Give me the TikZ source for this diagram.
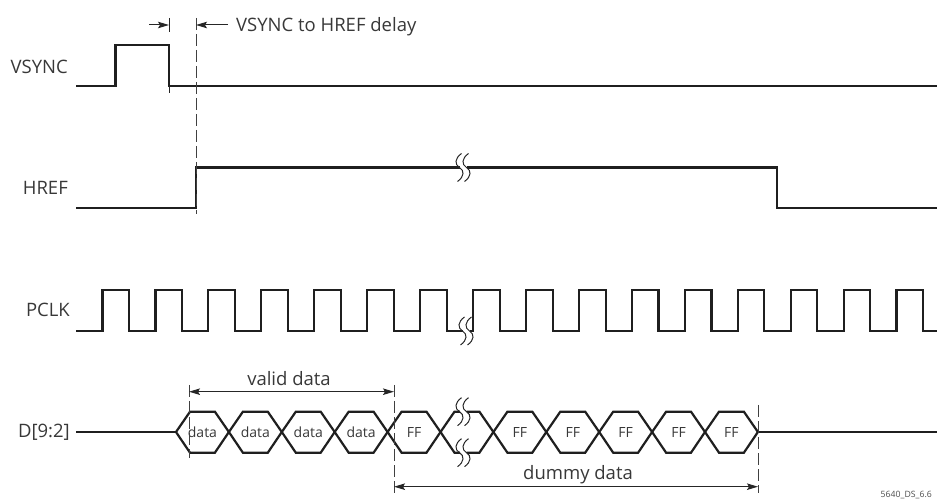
\documentclass[tikz,border=0pt]{standalone}
\usepackage{fontspec}
\setmainfont{Open Sans}
\usetikzlibrary{arrows.meta}
\begin{document}
\begin{tikzpicture}[x=1pt,y=-1pt,
  sig/.style={line width=2.2pt, draw=black!88, line join=miter},
  dim/.style={line width=1pt, draw=black!85},
  ext/.style={line width=1pt, draw=black!75, dash pattern=on 12pt off 4pt},
  lbl/.style={font=\fontsize{18.5}{21}\selectfont, text=black!78, inner sep=0pt},
  cell/.style={font=\fontsize{14}{16}\selectfont, text=black!78, inner sep=0pt, anchor=base},
  tinytext/.style={font=\fontsize{8.7}{10}\selectfont, text=black!70, inner sep=0pt},
  tipr/.style={-{Stealth[length=11pt,width=6.5pt,inset=2pt]}},
  tipb/.style={{Stealth[length=11pt,width=6.5pt,inset=2pt]}-{Stealth[length=11pt,width=6.5pt,inset=2pt]}},
  brk/.pic={
    \fill[white] (-3.5,-2.5) rectangle (3.5,2.5);
    \draw[line width=1pt, black!85] (-1.5,-14) .. controls (-8.5,-9) and (-8.5,-3) .. (-3.5,0) .. controls (1.5,3) and (1.5,9) .. (-5.5,14);
    \draw[line width=1pt, black!85] (5.5,-14) .. controls (-1.5,-9) and (-1.5,-3) .. (3.5,0) .. controls (8.5,3) and (8.5,9) .. (1.5,14);
  }
]
\useasboundingbox (0,0) rectangle (937,502);

% ---------- labels ----------
\node[lbl, anchor=base east] (lv) at (68,74) {VSYNC};
\node[lbl, anchor=base east] (lh) at (68,195) {HREF};
\node[lbl, anchor=base east] (lp) at (70,317) {PCLK};
\node[lbl, anchor=base east] (ld) at (70,437.5) {D[9:2]};

% ---------- VSYNC ----------
\draw[sig] (76,86) -- (115.5,86) -- (115.5,45) -- (169,45) -- (169,86) -- (937,86);
\draw[dim] (169,18) -- (169,32);
\draw[dim] (169,86) -- (169,93);

% ---------- HREF ----------
\draw[sig] (76,208.3) -- (196,208.3) -- (196,167.5) -- (777.3,167.5) -- (777.3,208.3) -- (937,208.3);
\pic at (463,167.5) {brk};

% ---------- delay dimension ----------
\draw[ext] (196,18) -- (196,214);
\coordinate (vfs) at (149,25);
\coordinate (vfall) at (169,25);
\coordinate (hrs) at (228,25);
\coordinate (hrise) at (196,25);
\draw[dim,tipr] (vfs) -- (vfall);
\draw[dim,tipr] (hrs) -- (hrise);
\node[lbl, anchor=base west] (delay) at (236,32) {VSYNC to HREF delay};

% ---------- PCLK ----------
\draw[sig] (76,331)
  foreach \i in {0,...,6} { -- ({102.5+52.9*\i},331) -- ({102.5+52.9*\i},290) -- ({129.2+52.9*\i},290) -- ({129.2+52.9*\i},331) }
  foreach \i in {0,...,8} { -- ({473.3+52.9*\i},331) -- ({473.3+52.9*\i},290) -- ({499.8+52.9*\i},290) -- ({499.8+52.9*\i},331) }
  -- (937,331);
\pic at (466,331) {brk};

% ---------- D[9:2] ----------
\draw[sig] (76,432) -- (176,432);
\draw[sig] (757.9,432) -- (937,432);
\foreach \k in {0,...,10} {
  \pgfmathsetmacro{\a}{176+52.9*\k}
  \pgfmathsetmacro{\b}{176+52.9*(\k+1)}
  \draw[sig] (\a,432) -- ({\a+14},411.7) -- ({\b-14},411.7) -- (\b,432) -- ({\b-14},452.7) -- ({\a+14},452.7) -- cycle;
}
\pic at (463,411.7) {brk};
\pic at (463,452.7) {brk};
\foreach \k/\t [count=\n] in {0/data,1/data,2/data,3/data,4/FF,6/FF,7/FF,8/FF,9/FF,10/FF} {
  \node[cell] (c\n) at ({176+52.9*\k+26.45},437) {\t};
}

% ---------- valid / dummy data ----------
\draw[ext] (189,385) -- (189,458);
\draw[ext] (394,385) -- (394,493);
\draw[ext] (758,405) -- (758,493);
\coordinate (va) at (189,391.7);
\coordinate (vb) at (394,391.7);
\coordinate (da) at (394,486.7);
\coordinate (db) at (758,486.7);
\draw[dim,tipb] (va) -- (vb);
\draw[dim,tipb] (da) -- (db);
\node[lbl, anchor=base] (valid) at (289,385) {valid data};
\node[lbl, anchor=base] (dummy) at (578,479.5) {dummy data};

\node[tinytext, anchor=base east] (fig) at (932,497) {5640\_DS\_6.6};
\end{tikzpicture}
\end{document}
